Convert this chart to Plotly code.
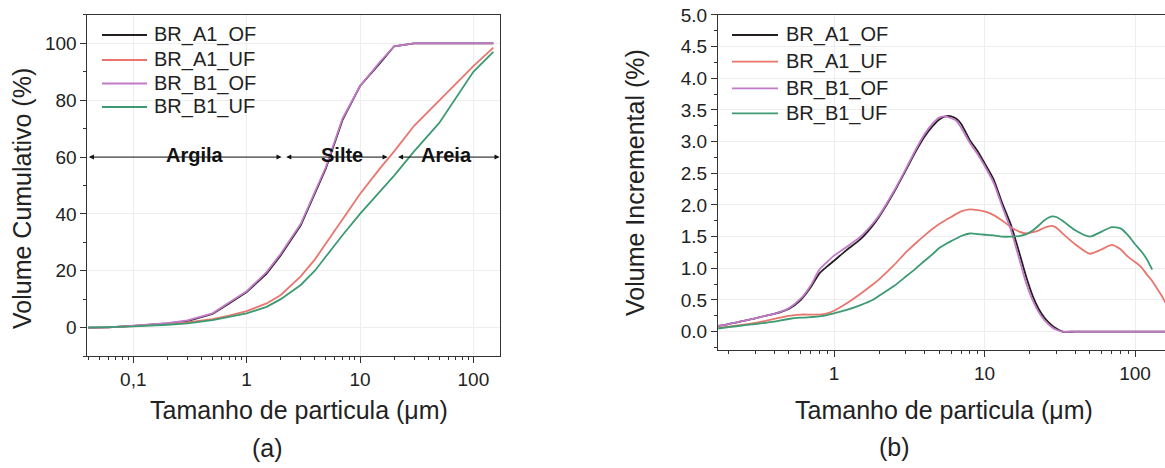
import plotly.graph_objects as go
import numpy as np

# ---------------- data ----------------
series_names = ["BR_A1_OF", "BR_A1_UF", "BR_B1_OF", "BR_B1_UF"]
series_colors = ["#231f20", "#e8766e", "#c27ac8", "#3d9a72"]

# cumulative volume (%) vs particle size (um)
cum_size = [0.04, 0.06, 0.1, 0.2, 0.3, 0.5, 0.7, 1, 1.5, 2, 3, 4, 5, 7, 10, 15, 20, 30, 50, 100, 150]
cum_a1_of = [0, 0.1, 0.6, 1.5, 2.3, 4.8, 8.5, 12.5, 19, 25.5, 36, 47, 56, 73, 85, 93, 99, 100, 100, 100, 100]
cum_a1_uf = [0, 0.1, 0.5, 1.2, 1.8, 3, 4.2, 5.8, 8.5, 11.5, 18, 24, 29.5, 38, 47, 56, 62, 71, 80, 92, 98.5]
cum_b1_of = [0, 0.1, 0.7, 1.6, 2.5, 5, 8.8, 12.8, 19.5, 26, 36.5, 47.5, 56.5, 73.5, 85, 93.5, 99, 100, 100, 100, 100]
cum_b1_uf = [0, 0.1, 0.4, 1.0, 1.5, 2.6, 3.7, 5, 7.3, 10, 15, 20, 25, 32.5, 40, 48, 53.5, 62, 72, 90, 97]

# incremental volume (%) vs particle size (um)
inc_size = [0.17, 0.2, 0.25, 0.3, 0.35, 0.4, 0.5, 0.6, 0.7, 0.8, 0.9, 1.0, 1.2, 1.5, 1.8, 2.0,
            2.5, 3.0, 3.5, 4.0, 4.5, 5.0, 5.5, 6.0, 6.5, 7.0, 8.0, 9.0, 10, 11.5, 13, 15, 17, 19,
            21, 23, 25, 28, 30, 33, 40, 50, 60, 70, 80, 90, 100, 110, 120, 130, 140, 150, 160]
inc_a1_of = [0.09, 0.12, 0.17, 0.21, 0.25, 0.28, 0.36, 0.5, 0.7, 0.92, 1.03, 1.12, 1.28, 1.46, 1.67, 1.82,
             2.2, 2.55, 2.85, 3.08, 3.24, 3.35, 3.40, 3.40, 3.36, 3.28, 3.02, 2.85, 2.66, 2.4, 2.05, 1.68, 1.25, 0.85,
             0.55, 0.35, 0.22, 0.1, 0.05, 0.0, 0, 0, 0, 0, 0, 0, 0, 0, 0, 0, 0, 0, 0]
inc_a1_uf = [0.06, 0.08, 0.11, 0.14, 0.17, 0.2, 0.25, 0.27, 0.27, 0.27, 0.29, 0.33, 0.44, 0.6, 0.74, 0.83,
             1.05, 1.25, 1.4, 1.52, 1.62, 1.7, 1.76, 1.81, 1.86, 1.9, 1.93, 1.92, 1.9, 1.84, 1.76, 1.65, 1.58, 1.55,
             1.57, 1.6, 1.64, 1.67, 1.64, 1.55, 1.38, 1.23, 1.3, 1.37, 1.3, 1.18, 1.1, 1.02, 0.9, 0.8, 0.68, 0.57, 0.45]
inc_b1_of = [0.09, 0.12, 0.17, 0.21, 0.25, 0.28, 0.37, 0.52, 0.73, 0.98, 1.1, 1.2, 1.33, 1.5, 1.7, 1.84,
             2.22, 2.57, 2.88, 3.12, 3.28, 3.38, 3.40, 3.37, 3.33, 3.22, 2.98, 2.8, 2.62, 2.35, 2.0, 1.6, 1.15, 0.75,
             0.48, 0.3, 0.18, 0.07, 0.03, 0.0, 0, 0, 0, 0, 0, 0, 0, 0, 0, 0, 0, 0, 0]
inc_b1_uf = [0.05, 0.07, 0.1, 0.12, 0.14, 0.16, 0.2, 0.22, 0.23, 0.24, 0.26, 0.29, 0.34, 0.42, 0.5, 0.57,
             0.72, 0.87, 1.0, 1.12, 1.22, 1.32, 1.38, 1.43, 1.47, 1.51, 1.55, 1.54, 1.53, 1.52, 1.5, 1.5, 1.51, 1.54,
             1.6, 1.68, 1.76, 1.82, 1.81, 1.75, 1.6, 1.5, 1.58, 1.65, 1.63, 1.52, 1.38, 1.27, 1.14, 0.98, None, None, None]

# size-class bands drawn on the cumulative panel (um)
band_names = ["Argila", "Silte", "Areia"]
band_edges = [(0.0394, 2.03), (2.17, 17.5), (21.0, 170.0)]
band_label_x = [0.35, 7.0, 57.5]
band_level = 60

FONT = "Liberation Sans, Arial, sans-serif"
TXT = "#222222"
W, H = 1165, 468

fig = go.Figure()

cum_sets = [cum_a1_of, cum_a1_uf, cum_b1_of, cum_b1_uf]
inc_sets = [inc_a1_of, inc_a1_uf, inc_b1_of, inc_b1_uf]
for name, color, ys in zip(series_names, series_colors, cum_sets):
    fig.add_trace(go.Scatter(x=cum_size, y=ys, name=name, mode="lines",
                             line=dict(color=color, width=1.8),
                             xaxis="x", yaxis="y", showlegend=False))
for name, color, ys in zip(series_names, series_colors, inc_sets):
    fig.add_trace(go.Scatter(x=inc_size, y=ys, name=name, mode="lines",
                             line=dict(color=color, width=1.8, shape="spline", smoothing=0.6),
                             xaxis="x2", yaxis="y2", showlegend=False))

def minor_log(lo, hi):
    vals = []
    for d in range(lo, hi + 1):
        for m in range(2, 10):
            vals.append(m * 10.0 ** d)
    return vals

axis_common = dict(showline=True, linecolor="#333333", linewidth=1.2, ticks="outside",
                   tickcolor="#333333", tickwidth=1.2, ticklen=6, automargin=False,
                   tickfont=dict(family=FONT, size=19, color=TXT),
                   showgrid=True, gridcolor="#eeeeee", gridwidth=1, zeroline=False)

fig.update_layout(
    width=W, height=H, margin=dict(l=0, r=0, t=0, b=0, pad=0, autoexpand=False),
    paper_bgcolor="white", plot_bgcolor="white",
    font=dict(family=FONT, color=TXT),
    showlegend=False,
    xaxis=dict(type="log", domain=[0.0751, 0.4288], range=[-1.404, 2.231], anchor="y",
               tickmode="array", tickvals=[0.1, 1, 10, 100], ticktext=["0,1", "1", "10", "100"],
               mirror=True,
               minor=dict(tickmode="array", tickvals=minor_log(-2, 2), ticks="outside",
                          ticklen=3, tickcolor="#333333", showgrid=False),
               **axis_common),
    yaxis=dict(domain=[0.2393, 0.968], range=[-10, 110], anchor="x",
               tickmode="array", tickvals=[0, 20, 40, 60, 80, 100], mirror=True,
               minor=dict(tickmode="array", tickvals=[-10, 10, 30, 50, 70, 90, 110], ticks="outside",
                          ticklen=3, tickcolor="#333333", showgrid=False),
               **axis_common),
    xaxis2=dict(type="log", domain=[0.6163, 1.0], range=[-0.771, 2.199], anchor="y2",
                tickmode="array", tickvals=[1, 10, 100], ticktext=["1", "10", "100"],
                mirror=True,
                minor=dict(tickmode="array", tickvals=minor_log(-1, 2), ticks="outside",
                           ticklen=3, tickcolor="#333333", showgrid=False),
                **axis_common),
    yaxis2=dict(domain=[0.2521, 0.968], range=[-0.29, 5.0], anchor="x2",
                tickmode="array", tickvals=[i * 0.5 for i in range(11)], tickformat=".1f",
                minor=dict(tickmode="array", tickvals=[i * 0.5 + 0.25 for i in range(-1, 10)], ticks="outside",
                           ticklen=3, tickcolor="#333333", showgrid=False),
                **axis_common),
)

annotations = []
shapes = []

# double-headed arrows for size classes
for (a, b), name, lx in zip(band_edges, band_names, band_label_x):
    annotations.append(dict(x=np.log10(b), y=band_level, ax=np.log10(a), ay=band_level,
                            xref="x", yref="y", axref="x", ayref="y", text="",
                            showarrow=True, arrowhead=2, arrowside="end+start",
                            arrowsize=1, arrowwidth=1, arrowcolor="#111111"))
    annotations.append(dict(x=np.log10(lx), y=band_level + 0.8, xref="x", yref="y", text="<b>%s</b>" % name,
                            xanchor="center", yanchor="middle",
                            showarrow=False, font=dict(family=FONT, size=20, color="#111111")))

# legend keys: (line start px, line end px, text start px, row centres px)
legend_boxes = [
    (102, 147, 152, [35, 60, 83.5, 107]),
    (732, 778, 784, [35, 61.7, 88.3, 113.3]),
]
for x0, x1, xt, rows in legend_boxes:
    for name, color, yc in zip(series_names, series_colors, rows):
        yp = 1 - yc / H
        shapes.append(dict(type="line", xref="paper", yref="paper", x0=x0 / W, x1=x1 / W, y0=yp, y1=yp,
                           line=dict(color=color, width=1.8)))
        annotations.append(dict(x=xt / W, y=yp, xref="paper", yref="paper", text=name,
                                xanchor="left", yanchor="middle", showarrow=False,
                                font=dict(family=FONT, size=20, color=TXT)))

# axis titles and panel labels
def centred(x, y, text, angle=0):
    return dict(x=x / W, y=1 - y / H, xref="paper", yref="paper", text=text, textangle=angle,
                xanchor="center", yanchor="middle", showarrow=False,
                font=dict(family=FONT, size=25, color=TXT))

annotations += [
    centred(22, 199, "Volume Cumulativo (%)", -90),
    centred(299, 410, "Tamanho de particula (μm)"),
    centred(267, 448, "(a)"),
    centred(635, 183, "Volume Incremental (%)", -90),
    centred(944, 410, "Tamanho de particula (μm)"),
    centred(894, 447, "(b)"),
]
fig.update_layout(annotations=annotations, shapes=shapes)

fig.write_html("out.html")
